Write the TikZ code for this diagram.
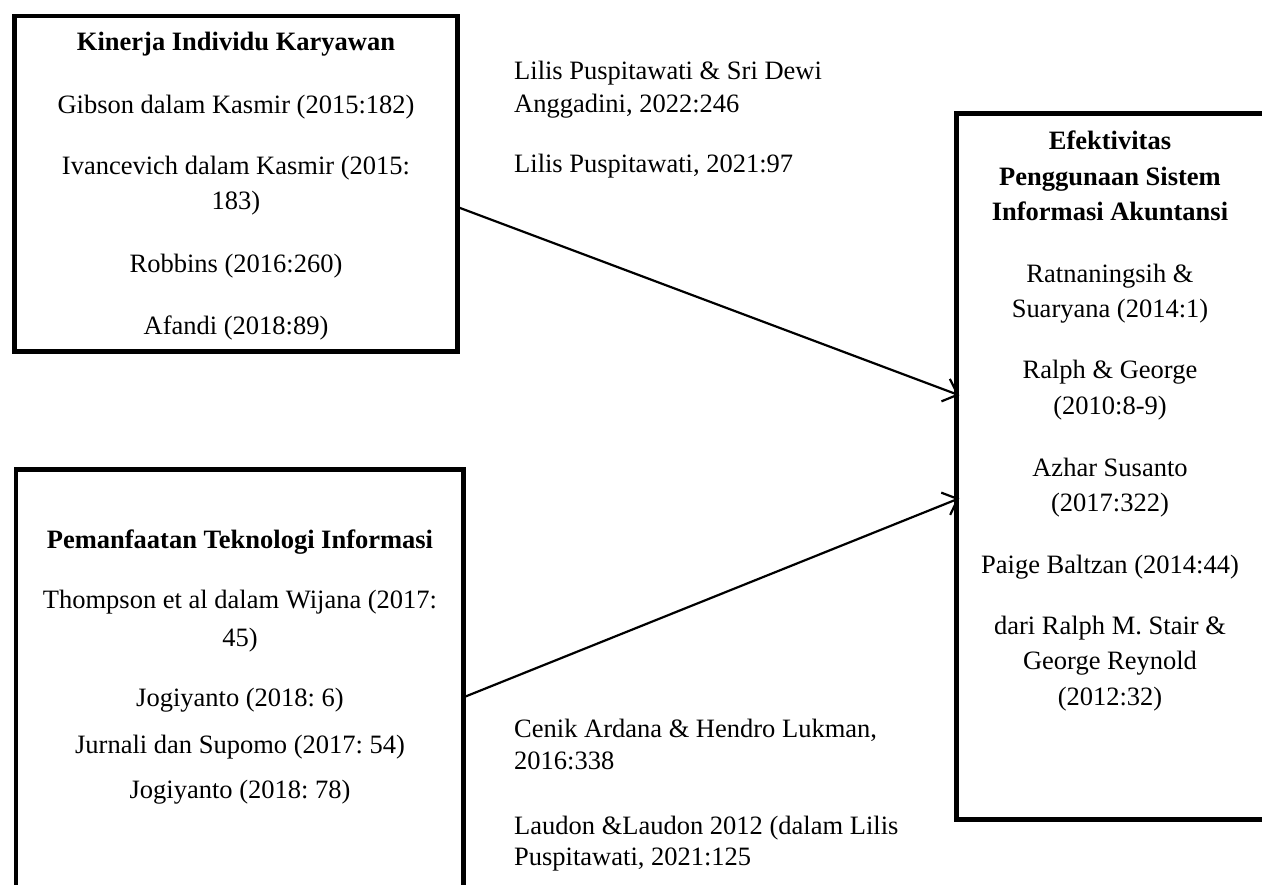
\documentclass[tikz,border=0pt]{standalone}
\usepackage{fontspec}
\setmainfont{Liberation Serif}
\usetikzlibrary{arrows.meta}
\frenchspacing

\begin{document}
\begin{tikzpicture}[x=1pt, y=-1pt,
		kotak/.style={draw, line width=4.5pt, inner sep=0pt, outer sep=0pt},
		teks/.style={font=\fontsize{26.5}{32}\selectfont, inner sep=0pt, text height=19pt, text depth=5pt},
		panah/.style={line width=2.2pt, shorten >=-3pt, -{Straight Barb[length=13pt, width=24pt]}}]
	\useasboundingbox (0,0) rectangle (1262,885);
	\clip (0,0) rectangle (1262,885);

	% kotak variabel
	\node[kotak, anchor=north west, minimum width=443pt, minimum height=335.5pt] (kinerja) at (14.5,16) {};
	\node[kotak, anchor=north west, minimum width=447.5pt, minimum height=440pt] (manfaat) at (16,469.5) {};
	\node[kotak, anchor=north west, minimum width=310pt, minimum height=706pt] (efektif) at (956.5,113.5) {};

	% isi kotak
	\foreach \y/\t [count=\i] in {44/\textbf{Kinerja Individu Karyawan}, 107/Gibson dalam Kasmir (2015:182),
			168/Ivancevich dalam Kasmir (2015:, 203/183), 266/Robbins (2016:260), 328/Afandi (2018:89)}
		\node[teks, name=kin\i] at (236,\y) {\t};
	\foreach \y/\t [count=\i] in {541/\textbf{Pemanfaatan Teknologi Informasi}, 601/Thompson et al dalam Wijana (2017:,
			639/45), 699/Jogiyanto (2018: 6), 746/Jurnali dan Supomo (2017: 54), 791/Jogiyanto (2018: 78)}
		\node[teks, name=pem\i] at (240,\y) {\t};
	\foreach \y/\t [count=\i] in {143/\textbf{Efektivitas}, 179/\textbf{Penggunaan Sistem}, 214/\textbf{Informasi Akuntansi},
			276/Ratnaningsih \&, 311/Suaryana (2014:1), 372/Ralph \& George, 408/(2010:8-9),
			469/Azhar Susanto, 504/(2017:322), 566/Paige Baltzan (2014:44),
			627/dari Ralph M. Stair \&, 662/George Reynold, 698/(2012:32)}
		\node[teks, name=efk\i] at (1110,\y) {\t};

	% sumber teori
	\foreach \y/\t [count=\i] in {73/Lilis Puspitawati \& Sri Dewi, 106/{Anggadini, 2022:246}, 166/{Lilis Puspitawati, 2021:97},
			730/{Cenik Ardana \& Hendro Lukman,}, 762/2016:338, 827/Laudon \&Laudon 2012 (dalam Lilis, 858/{Puspitawati, 2021:125}}
		\node[teks, anchor=west, name=src\i] at (514,\y) {\t};

	\draw[panah] (kinerja.-6.5) -- (efektif.155.85);
	\draw[panah] (manfaat.-2.2) -- (efektif.192.2);
\end{tikzpicture}
\end{document}
